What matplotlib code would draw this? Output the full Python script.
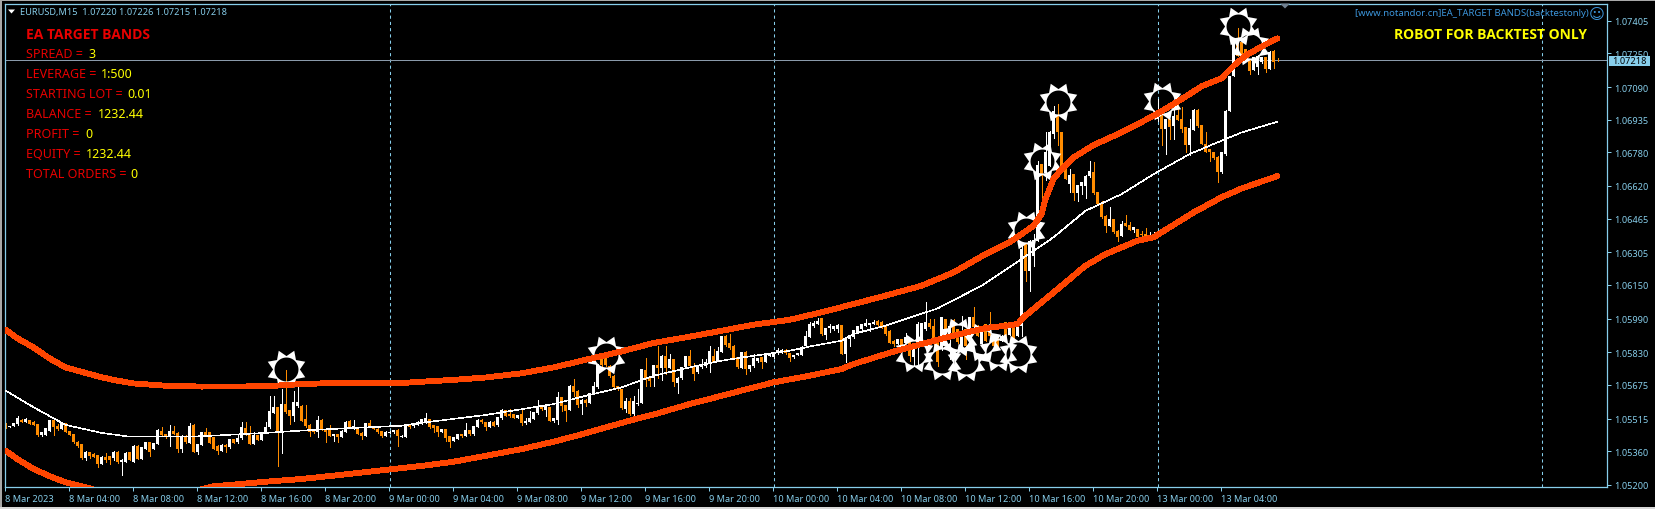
import numpy as np
import matplotlib
matplotlib.use("Agg")
import matplotlib.pyplot as plt
from matplotlib.path import Path
from matplotlib.patches import Polygon, Rectangle

W, H = 1655, 510

# =======================
# Candles, in points above 1.05000 (one list per field, one row = 10 bars)
# =======================
opens = [
    494, 474, 481, 489, 510, 500, 508, 500, 489, 437,
    437, 458, 508, 481, 466, 493, 456, 442, 405, 393,
    326, 355, 348, 342, 299, 331, 336, 326, 358, 311,
    311, 355, 311, 386, 323, 371, 402, 371, 394, 458,
    442, 426, 458, 447, 371, 434, 399, 485, 358, 390,
    450, 450, 426, 386, 363, 390, 379, 418, 402, 421,
    469, 445, 394, 437, 415, 450, 474, 542, 568, 450,
    584, 556, 529, 573, 576, 513, 485, 462, 450, 510,
    466, 462, 431, 442, 429, 453, 505, 466, 469, 447,
    434, 492, 478, 466, 456, 434, 447, 450, 462, 429,
    429, 489, 478, 485, 489, 497, 513, 484, 478, 452,
    465, 430, 410, 418, 441, 433, 460, 440, 475, 509,
    497, 475, 500, 484, 517, 555, 536, 536, 519, 538,
    494, 500, 513, 541, 573, 557, 570, 502, 509, 617,
    579, 557, 668, 647, 586, 604, 589, 633, 663, 798,
    806, 766, 718, 668, 655, 560, 600, 536, 582, 589,
    745, 710, 710, 769, 753, 813, 756, 798, 684, 706,
    758, 810, 763, 734, 758, 763, 779, 813, 790, 832,
    905, 874, 861, 806, 756, 832, 750, 763, 788, 806,
    785, 813, 806, 826, 829, 842, 826, 806, 817, 818,
    858, 904, 953, 964, 991, 912, 943, 940, 940, 959,
    822, 893, 901, 924, 940, 956, 959, 964, 980, 975,
    953, 932, 885, 869, 893, 874, 885, 806, 877, 901,
    940, 969, 956, 885, 845, 988, 893, 985, 940, 861,
    940, 909, 996, 956, 869, 964, 948, 909, 901, 885,
    972, 912, 948, 909, 956, 1344, 1217, 1289, 1360, 1724,
    1680, 1716, 1866, 1953, 1874, 1708, 1629, 1676, 1586, 1621,
    1621, 1665, 1687, 1589, 1534, 1478, 1431, 1463, 1407, 1383,
    1444, 1434, 1412, 1415, 1391, 1391, 1376, 1376, 1938, 1969,
    1890, 1938, 1906, 1957, 1938, 1898, 1814, 1887, 1982, 1909,
    1819, 1795, 1779, 1759, 1684, 1771, 1977, 2144, 2302, 2302,
    2270, 2215, 2172, 2183, 2207, 2231, 2176, 2262, 2220,
]
closes = [
    474, 481, 494, 516, 500, 513, 489, 485, 437, 450,
    469, 508, 474, 466, 497, 453, 437, 402, 383, 326,
    355, 339, 333, 299, 333, 318, 317, 358, 307, 320,
    352, 320, 386, 323, 379, 402, 358, 399, 462, 437,
    426, 458, 442, 371, 434, 402, 481, 358, 394, 450,
    434, 399, 371, 363, 391, 379, 418, 399, 421, 474,
    437, 394, 437, 415, 450, 474, 553, 568, 453, 584,
    545, 529, 592, 595, 505, 478, 450, 450, 510, 462,
    450, 434, 442, 429, 458, 500, 474, 478, 442, 431,
    494, 478, 466, 450, 431, 453, 453, 461, 431, 434,
    488, 474, 494, 497, 513, 517, 473, 468, 449, 465,
    421, 405, 426, 441, 430, 460, 440, 478, 509, 497,
    473, 500, 481, 522, 555, 528, 525, 520, 532, 494,
    503, 520, 544, 576, 560, 573, 505, 516, 617, 576,
    551, 671, 639, 579, 604, 589, 636, 668, 774, 769,
    769, 715, 663, 655, 563, 600, 536, 597, 589, 750,
    699, 695, 769, 753, 813, 753, 798, 690, 710, 758,
    810, 763, 726, 769, 774, 782, 837, 785, 837, 905,
    864, 848, 798, 758, 829, 750, 769, 802, 802, 782,
    821, 826, 829, 840, 842, 826, 802, 817, 826, 856,
    908, 962, 967, 980, 916, 945, 953, 953, 961, 822,
    896, 912, 935, 953, 964, 969, 969, 975, 959, 948,
    916, 874, 869, 893, 861, 901, 814, 853, 964, 969,
    972, 948, 885, 782, 996, 924, 956, 909, 877, 924,
    861, 996, 948, 909, 924, 885, 909, 861, 853, 909,
    909, 943, 885, 956, 1320, 1217, 1360, 1364, 1719, 1668,
    1779, 1877, 1977, 1874, 1700, 1653, 1672, 1586, 1624, 1637,
    1668, 1689, 1586, 1534, 1471, 1431, 1463, 1399, 1379, 1439,
    1431, 1412, 1423, 1376, 1387, 1376, 1388, 1387, 1969, 1890,
    1938, 1898, 1953, 1934, 1890, 1814, 1893, 1982, 1903, 1819,
    1782, 1779, 1751, 1684, 1779, 1977, 2140, 2302, 2239, 2231,
    2223, 2168, 2231, 2239, 2231, 2176, 2255, 2207, 2218,
]
highs = [
    496, 482, 495, 529, 513, 516, 510, 502, 491, 452,
    472, 510, 510, 490, 500, 495, 458, 444, 407, 395,
    360, 357, 350, 344, 335, 352, 338, 360, 360, 322,
    355, 358, 390, 388, 381, 404, 404, 401, 464, 477,
    444, 485, 482, 449, 436, 436, 494, 487, 396, 452,
    469, 452, 428, 388, 393, 392, 420, 420, 442, 497,
    497, 478, 450, 439, 452, 497, 621, 621, 570, 656,
    747, 558, 648, 667, 578, 580, 487, 464, 526, 512,
    468, 485, 444, 444, 460, 502, 507, 510, 471, 449,
    496, 510, 480, 468, 458, 455, 458, 463, 464, 436,
    490, 491, 496, 505, 515, 541, 515, 486, 480, 467,
    467, 432, 428, 443, 443, 492, 462, 480, 511, 511,
    499, 502, 502, 524, 560, 557, 560, 538, 534, 560,
    516, 552, 546, 603, 575, 575, 572, 518, 639, 619,
    581, 673, 703, 649, 606, 606, 638, 690, 776, 800,
    808, 768, 720, 670, 657, 611, 615, 623, 655, 752,
    801, 712, 771, 861, 815, 861, 821, 800, 712, 760,
    812, 840, 778, 771, 798, 798, 861, 845, 853, 907,
    912, 916, 863, 808, 831, 834, 771, 821, 804, 808,
    823, 828, 831, 848, 844, 844, 828, 819, 828, 858,
    932, 972, 980, 995, 993, 947, 964, 955, 963, 961,
    898, 914, 937, 955, 966, 988, 971, 985, 982, 977,
    955, 934, 887, 895, 895, 920, 887, 855, 972, 971,
    1067, 988, 988, 887, 998, 990, 958, 987, 942, 1000,
    942, 998, 1043, 958, 926, 966, 1023, 911, 903, 911,
    974, 961, 950, 958, 1345, 1346, 1362, 1392, 1740, 1726,
    1874, 1879, 2001, 2009, 1876, 1710, 1700, 1678, 1626, 1639,
    1670, 1740, 1732, 1591, 1550, 1480, 1518, 1465, 1409, 1455,
    1482, 1450, 1425, 1417, 1407, 1418, 1402, 1402, 2033, 1971,
    1940, 1940, 2001, 2017, 1993, 1900, 1938, 1984, 1984, 1911,
    1874, 1797, 1781, 1761, 1781, 1979, 2142, 2304, 2369, 2304,
    2272, 2217, 2233, 2241, 2233, 2233, 2260, 2265, 2226,
]
lows = [
    472, 473, 480, 485, 498, 498, 487, 483, 431, 431,
    435, 456, 437, 463, 464, 451, 435, 400, 381, 324,
    320, 327, 331, 284, 297, 307, 299, 317, 305, 249,
    309, 318, 309, 321, 321, 369, 339, 369, 392, 435,
    424, 386, 440, 355, 355, 400, 397, 356, 347, 388,
    432, 397, 369, 347, 361, 355, 377, 397, 400, 419,
    435, 392, 392, 413, 413, 448, 472, 540, 291, 350,
    543, 489, 505, 571, 503, 476, 434, 448, 426, 460,
    402, 432, 410, 402, 427, 451, 472, 464, 440, 418,
    432, 476, 464, 448, 429, 432, 445, 448, 383, 427,
    427, 472, 476, 483, 487, 495, 471, 449, 433, 450,
    410, 381, 408, 416, 428, 431, 438, 438, 473, 495,
    462, 473, 479, 482, 515, 526, 523, 518, 517, 484,
    487, 498, 511, 539, 558, 528, 503, 497, 489, 552,
    505, 555, 623, 568, 536, 573, 587, 631, 661, 767,
    767, 713, 661, 653, 561, 547, 534, 525, 580, 587,
    668, 671, 668, 706, 699, 726, 754, 671, 636, 704,
    756, 761, 699, 732, 756, 761, 734, 783, 788, 830,
    862, 846, 796, 756, 754, 726, 742, 761, 786, 756,
    783, 811, 804, 824, 827, 824, 790, 804, 815, 816,
    856, 902, 951, 962, 914, 893, 924, 938, 924, 820,
    782, 861, 899, 922, 938, 954, 932, 962, 957, 946,
    914, 872, 858, 867, 859, 872, 790, 770, 774, 880,
    938, 946, 861, 766, 843, 922, 800, 907, 875, 859,
    800, 907, 946, 907, 867, 883, 907, 859, 851, 883,
    890, 910, 883, 907, 909, 1170, 1122, 1241, 1358, 1542,
    1650, 1714, 1850, 1814, 1698, 1651, 1589, 1554, 1550, 1581,
    1561, 1663, 1584, 1532, 1469, 1399, 1429, 1397, 1360, 1381,
    1429, 1410, 1399, 1374, 1376, 1374, 1374, 1374, 1930, 1814,
    1771, 1843, 1843, 1932, 1874, 1779, 1767, 1885, 1901, 1817,
    1780, 1740, 1749, 1640, 1682, 1769, 1975, 2142, 2237, 2229,
    2221, 2150, 2170, 2150, 2205, 2163, 2174, 2180, 2215,
]

# =======================
# Bands and middle line
# =======================
upper_bars = [0, 3, 7, 11, 15, 20, 24, 28, 32, 40, 49, 65, 74, 82, 99, 104, 112, 120, 129, 137, 145, 154, 162, 171, 179, 187,
              196, 204, 212, 220, 229, 237, 245, 251, 254, 257, 259, 260, 262, 264, 267, 272, 279, 287,
              292, 296, 299, 304, 305, 307, 310, 314, 318]
upper_band = [937, 896, 853, 801, 758, 732, 711, 695, 682, 671, 667, 668, 679, 684, 684, 690, 699, 710, 730, 758, 794, 834, 874, 904, 932, 961,
              984, 1020, 1059, 1099, 1146, 1209, 1296, 1352, 1391, 1431, 1486, 1558, 1653, 1700, 1755, 1814, 1874, 1953,
              2009, 2056, 2093, 2131, 2152, 2190, 2239, 2282, 2321]
lower_bars = [0, 3, 7, 11, 15, 21, 25, 35, 42, 52, 65, 74, 82, 91, 104, 112, 120, 129, 137, 144, 151, 157, 162,
              171, 179, 187, 192, 200, 209, 212, 222, 229, 237, 245, 251, 253, 255, 262, 270, 275, 283, 287,
              291, 297, 304, 309, 318]
lower_band = [363, 322, 276, 242, 212, 184, 157, 141, 149, 193, 215, 228, 244, 263, 290, 310, 338, 370, 405, 440, 478, 510, 534,
              584, 623, 663, 687, 715, 750, 774, 833, 869, 909, 945, 958, 964, 1004, 1114, 1241, 1296, 1360, 1376,
              1423, 1494, 1566, 1608, 1667]
middle_bars = [0, 7, 15, 24, 31, 49, 65, 74, 82, 91, 99, 104, 120, 137, 145, 154, 162, 171, 179, 187, 196, 202,
               209, 212, 220, 233, 244, 254, 262, 270, 279, 287, 296, 304, 309, 318]
middle_line = [648, 569, 485, 447, 429, 431, 447, 458, 466, 474, 481, 495, 532, 584, 623, 663, 718, 758, 790, 813, 837, 861,
               885, 917, 956, 1038, 1146, 1273, 1376, 1502, 1581, 1676, 1771, 1835, 1874, 1925]

# sun arrows
sun_bars = [70, 150, 227, 234, 240, 238, 244, 248, 253, 255, 259, 263, 289, 308, 311]
sun_points = [751, 817, 827, 789, 784, 903, 879, 831, 822, 1411, 1739, 2019, 2023, 2380, 2285]

# axis labels
price_ticks = [1.07405, 1.07250, 1.07090, 1.06935, 1.06780, 1.06620, 1.06465, 1.06305,
               1.06150, 1.05990, 1.05830, 1.05675, 1.05515, 1.05360, 1.05200]
time_labels = ["8 Mar 2023", "8 Mar 04:00", "8 Mar 08:00", "8 Mar 12:00", "8 Mar 16:00", "8 Mar 20:00",
               "9 Mar 00:00", "9 Mar 04:00", "9 Mar 08:00", "9 Mar 12:00", "9 Mar 16:00", "9 Mar 20:00",
               "10 Mar 00:00", "10 Mar 04:00", "10 Mar 08:00", "10 Mar 12:00", "10 Mar 16:00", "10 Mar 20:00",
               "13 Mar 00:00", "13 Mar 04:00"]
day_bars = [96, 192, 288, 384]
bid_price = 1.07218

# info panel
info_labels = ["SPREAD = ", "LEVERAGE = ", "STARTING LOT = ", "BALANCE = ", "PROFIT = ", "EQUITY = ", "TOTAL ORDERS = "]
info_values = ["3", "1:500", "0.01", "1232.44", "0", "1232.44", "0"]

SKY = "#87CEEB"
RED = "#E80000"
YELLOW = "#FFFF00"
FONT = "Noto Sans"
BOLD_FONT = "Open Sans"
SMALL = 6.6


def price(points):
    return 1.05 + np.array(points) / 100000


def fx(x):
    return x / W


def fy(y):
    return 1 - y / H


def sun_marker():
    # star with 8 rays and a round hole, so the chart shows through the middle
    ang = np.pi / 2 - np.arange(16) * np.pi / 8
    ang = ang[::-1]
    rad = np.where(np.arange(16) % 2 == 0, 0.66, 1.0)[::-1]
    star = np.column_stack([rad * np.cos(ang), rad * np.sin(ang)])
    t = np.linspace(0, 2 * np.pi, 49)[:-1]
    hole = 0.59 * np.column_stack([np.cos(t), np.sin(t)])[::-1]
    verts = np.vstack([star, star[:1], hole, hole[:1]])
    codes = [Path.MOVETO] + [Path.LINETO] * 15 + [Path.CLOSEPOLY]
    codes += [Path.MOVETO] + [Path.LINETO] * 47 + [Path.CLOSEPOLY]
    return Path(verts, codes)


fig = plt.figure(figsize=(W / 100, H / 100), dpi=100, facecolor="black")
ax = fig.add_axes([fx(4.5), fy(487.5), fx(1607 - 4.5), (487.5 - 4.5) / H], facecolor="black")

# window edge
fig.add_artist(Rectangle((0, fy(2)), 1, 2 / H, transform=fig.transFigure, color="#A8A8A8", lw=0))
fig.add_artist(Rectangle((0, 0), 2 / W, 1, transform=fig.transFigure, color="#A8A8A8", lw=0))
fig.add_artist(Rectangle((0, 0), 1, 2 / H, transform=fig.transFigure, color="#D8D8D8", lw=0))

# day separators + bid line
for b in day_bars:
    ax.axvline(b, color=SKY, lw=0.75, dashes=(3, 3), zorder=1)
ax.axhline(bid_price, color="#8A9AAA", lw=0.72, zorder=1)

# candles
bars = np.arange(len(opens))
o, h, l, c = price(opens), price(highs), price(lows), price(closes)
cols = np.where(c >= o, "white", "#FF8C00")
ax.vlines(bars, l, h, colors=cols, lw=0.72, antialiased=False, zorder=2)
ax.bar(bars, np.abs(c - o), bottom=np.minimum(o, c), width=0.75, color=cols, antialiased=False, zorder=2)

# thinner than 1px looks right here: without antialias a 1px line comes out 2px wide
ax.plot(middle_bars, price(middle_line), color="white", lw=0.4, antialiased=False, zorder=3)
ax.plot(sun_bars, price(sun_points), ls="", marker=sun_marker(), ms=27, mfc="white", mec="none", zorder=4)
ax.plot(upper_bars, price(upper_band), color="#FF4500", lw=3.5, solid_capstyle="round", antialiased=False, zorder=5)
ax.plot(lower_bars, price(lower_band), color="#FF4500", lw=3.5, solid_capstyle="round", antialiased=False, zorder=5)

# axes
ax.set_xlim(-0.25, 400.375)
ax.set_ylim(1.05 + (2508 - 4.75 * 487.5) / 100000, 1.05 + (2508 - 4.75 * 4.5) / 100000)
ax.yaxis.tick_right()
ax.set_yticks(price_ticks)
ax.set_yticklabels(["%.5f" % p for p in price_ticks])
ax.set_xticks(np.arange(len(time_labels)) * 16 - 0.125)
ax.set_xticklabels(time_labels, ha="left")
ax.tick_params(axis="both", colors=SKY, length=3, width=0.72, labelsize=SMALL)
ax.tick_params(axis="y", pad=2)
ax.tick_params(axis="x", pad=2.5)
for t in ax.get_xticklabels() + ax.get_yticklabels():
    t.set_family(FONT)
    t.set_color(SKY)
for s in ax.spines.values():
    s.set_color(SKY)
    s.set_linewidth(0.9)

# bid label
fig.add_artist(Rectangle((fx(1609), fy(66.5)), 41 / W, 10 / H, transform=fig.transFigure, color=SKY, lw=0, zorder=6))
fig.text(fx(1629.5), fy(61.5), "%.5f" % bid_price, color="black", fontsize=SMALL, family=FONT,
         va="center", ha="center", zorder=7)

# header + triangles
fig.add_artist(Polygon([(fx(8), fy(10.5)), (fx(15), fy(10.5)), (fx(11.5), fy(14.5))], transform=fig.transFigure,
                       color="white", lw=0))
fig.add_artist(Polygon([(fx(1280), fy(4.5)), (fx(1290), fy(4.5)), (fx(1285), fy(9.5))], transform=fig.transFigure,
                       color="#708090", lw=0))
fig.text(fx(20), fy(12.5), "EURUSD,M15  1.07220 1.07226 1.07215 1.07218", color=SKY, fontsize=SMALL,
         family=FONT, va="center")

# info panel
fig.text(fx(26), fy(35), "EA TARGET BANDS", color=RED, fontsize=10, fontweight="bold", family=BOLD_FONT, va="center")
label_y = [54.5, 74.5, 94.5, 114.5, 134.5, 154.5, 175]
value_x = [88.5, 100.5, 127, 97.5, 85, 85.5, 130]
for lab, val, y, vx in zip(info_labels, info_values, label_y, value_x):
    fig.text(fx(26), fy(y), lab, color=RED, fontsize=9, family=FONT, va="center")
    fig.text(fx(vx), fy(y), val, color=YELLOW, fontsize=9, family=FONT, va="center")

# top right
fig.text(fx(1589), fy(14), "[www.notandor.cn]EA_TARGET BANDS(backtestonly)", color="#3C96DC", fontsize=6.9,
         family=FONT, va="center", ha="right")
fig.text(fx(1597), fy(14), "\u263A", color="#3C96DC", fontsize=11, family="DejaVu Sans", va="center", ha="center")
fig.text(fx(1587), fy(35), "ROBOT FOR BACKTEST ONLY", color=YELLOW, fontsize=10, fontweight="bold",
         family=BOLD_FONT, va="center", ha="right")

fig.savefig("out.png", dpi=100, facecolor="black")
